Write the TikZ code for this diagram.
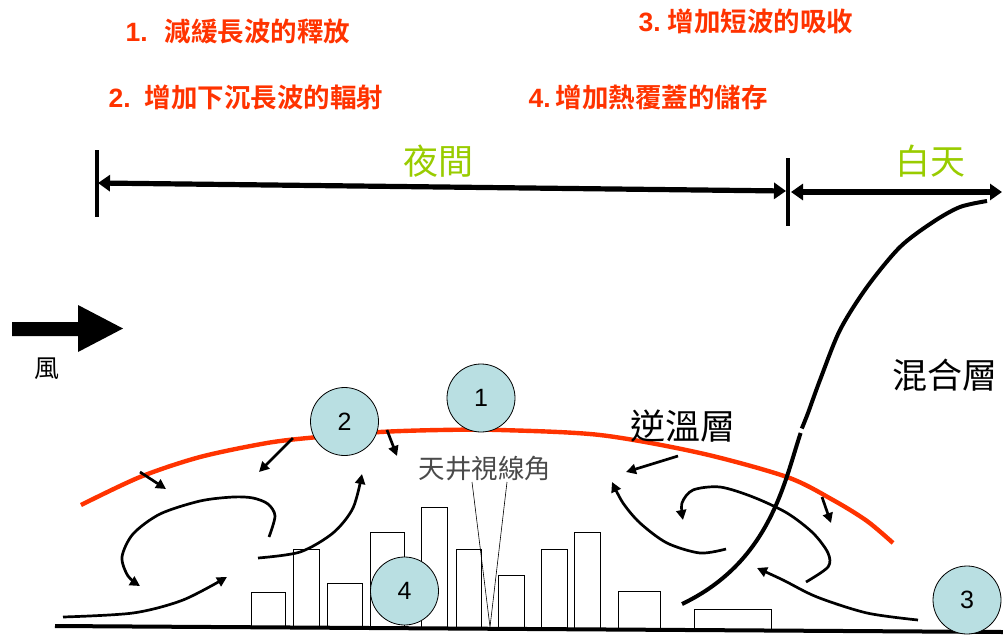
\documentclass[tikz,border=0pt]{standalone}
\usepackage{fontspec}
\setmainfont{Liberation Sans}
\newfontfamily\cjk[BoldFont={Noto Sans CJK TC Bold}]{Noto Sans CJK TC}
\usetikzlibrary{arrows.meta}
\definecolor{hotred}{HTML}{FF3300}
\definecolor{leaf}{HTML}{99CC00}
\definecolor{bubble}{HTML}{B9DFE2}
\definecolor{anglegray}{HTML}{4A4A4A}

\begin{document}
\begin{tikzpicture}[x=1pt,y=-1pt,
  flow/.style={line width=2.7pt,-{Triangle[length=10pt,width=10pt]}},
  spanarrow/.style={line width=5.2pt,{Triangle[length=12pt,width=16pt]}-{Triangle[length=12pt,width=16pt]}},
  tick/.style={line width=3.2pt},
  house/.style={line width=1pt},
  bubblenode/.style={circle,draw=black,line width=0.8pt,fill=bubble,minimum size=68pt,inner sep=0pt,font=\fontsize{25}{25}\selectfont},
  effect/.style={anchor=west,text=hotred,font=\fontsize{26.5}{30}\selectfont\bfseries},
  period/.style={text=leaf,font=\cjk\fontsize{35}{38}\selectfont},
  layername/.style={text=black,font=\cjk\fontsize{35}{38}\selectfont}]

\useasboundingbox (0,0) rectangle (1003,635);

% effect list
\node[effect] (e1) at (122,31) {1.\hspace{17pt}\cjk 減緩長波的釋放};
\node[effect] (e2) at (105,97) {2.\hspace{14pt}\cjk 增加下沉長波的輻射};
\node[effect] (e3) at (635,21) {3.\hspace{7pt}\cjk 增加短波的吸收};
\node[effect] (e4) at (525,97) {4.\hspace{5pt}\cjk 增加熱覆蓋的儲存};

% night / day spans
\coordinate (tL1) at (97,150);
\coordinate (tL2) at (97,217);
\coordinate (tR1) at (788,158);
\coordinate (tR2) at (788,226);
\draw[tick] (tL1) -- (tL2);
\draw[tick] (tR1) -- (tR2);
\coordinate (nA) at (98,183);
\coordinate (nB) at (786,191);
\coordinate (dA) at (791,192);
\coordinate (dB) at (1002,192);
\draw[spanarrow] (nA) -- (nB);
\draw[spanarrow] (dA) -- (dB);
\node[period] (night) at (438,161) {夜間};
\node[period] (day) at (930,161) {白天};

% wind
\fill[black] (12,322) -- (78,322) -- (78,305) -- (123,328.5) -- (78,352) -- (78,336) -- (12,336) -- cycle;
\node[font=\cjk\fontsize{25}{25}\selectfont] (wind) at (47,369) {風};

% inversion layer
\draw[hotred,line width=4.4pt] plot[smooth] coordinates {(81,505) (140,477) (200,457) (267,443) (313,437.5) (380,432) (440,430) (500,430) (600,435) (700,453) (787,477) (833,500) (867,521) (893,543)};

% buildings
\foreach \xa/\xb/\top in {251/285/592, 293/319/549, 327/362/583, 370/404/532, 421/447/507, 456/481/549, 498/524/575, 541/567/549, 574/600/532, 618/660/591, 694/771/609}
  \draw[house] (\xa,632) -- (\xa,\top) -- (\xb,\top) -- (\xb,632);

% sky view factor
\coordinate (apex) at (490,627);
\coordinate (vl) at (472,482);
\coordinate (vr) at (507,482);
\draw[line width=0.6pt] (vl) -- (apex) -- (vr);
\node[text=anglegray,font=\cjk\fontsize{26.5}{28}\selectfont] (svf) at (485,469) {天井視線角};

% ground
\fill[white] (0,628.5) rectangle (1003,635);
\draw[line width=4pt] (55,626) -- (1003,632);

% mixing layer, broken just above the inversion layer
\coordinate (mBot) at (682,604);
\coordinate (mBreakA) at (800.6,433);
\coordinate (mBreakB) at (801.8,428.5);
\draw[line width=4pt] (mBot) .. controls (770,562) and (784,483) .. (mBreakA);
\draw[line width=4pt] plot[smooth] coordinates {(mBreakB) (808,413) (820,380) (840,330) (867,287) (900,247) (933,222) (960,207) (987,201)};
\node[layername] (mix) at (945,375) {混合層};
\node[layername] (inv) at (683,426) {逆溫層};

% circulation, left
\draw[flow] (140,472) -- (166,489);
\draw[flow] (293,438) -- (259,472);
\draw[flow] (387,430) -- (397,456);
\draw[flow] plot[smooth] coordinates {(269,537) (275,516) (268,504) (253,498) (233,497) (200,501) (160,514) (133,534) (122,557) (128,576) (140,586)};
\draw[flow] plot[smooth] coordinates {(63,617) (133,613) (183,600) (227,577)};
\draw[flow] plot[smooth] coordinates {(258,558) (300,552) (333,533) (353,508) (362,474)};

% circulation, right
\draw[flow] (678,456) -- (626,472);
\draw[flow] (822,497) -- (831,523);
\draw[flow] plot[smooth] coordinates {(726,549) (700,553) (667,543) (640,523) (623,503) (612,482)};
\draw[flow] plot[smooth] coordinates {(806,582) (828,567) (828,553) (813,533) (787,513) (753,497) (720,487) (693,490) (682,503) (683,520)};
\draw[flow] plot[smooth] coordinates {(918,620) (867,613) (817,597) (783,580) (757,568)};

% numbered markers
\node[bubblenode] (c1) at (481,398) {1};
\node[bubblenode] (c2) at (344.5,421.5) {2};
\node[bubblenode] (c4) at (404.5,591) {4};
\node[bubblenode] (c3) at (967,600) {3};

\end{tikzpicture}
\end{document}
